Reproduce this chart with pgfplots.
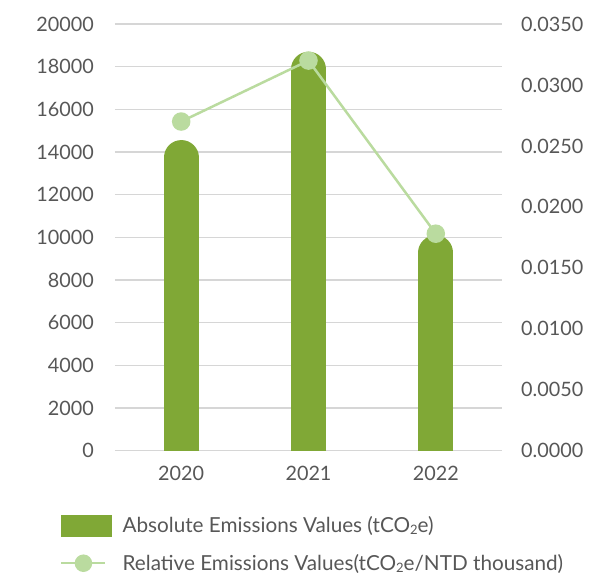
\documentclass[border=0pt]{standalone}
\usepackage{pgfplots}
\pgfplotsset{compat=1.18}
\usepackage{fontspec}
\setmainfont{Lato}

\definecolor{barcol}{HTML}{80A836}
\definecolor{linecol}{HTML}{BADB9F}
\definecolor{gridcol}{HTML}{D6D6D6}
\definecolor{txt}{HTML}{575757}

% tCO2e with a small, slightly lowered 2
\newcommand{\coe}{tCO\raisebox{-0.15ex}{\fontsize{13}{13}\selectfont 2}e}

\pgfplotsset{
  common/.style={
    scale only axis, width=387pt, height=426.7pt,
    xmin=-0.52, xmax=2.52, ymin=0,
    axis line style={draw=none},
    major tick length=0pt,
    tick style={draw=none},
    /pgf/number format/assume math mode=true,
    ticklabel style={font=\fontsize{19.8}{23}\selectfont, text=txt, inner sep=0pt},
  },
}

\begin{document}
\begin{tikzpicture}
\path[use as bounding box] (-115pt,-125.3pt) rectangle (477pt,450.7pt);

% absolute emissions: bars with rounded tops
\begin{axis}[
  common,
  ymax=20000,
  ytick={0,2000,4000,6000,8000,10000,12000,14000,16000,18000,20000},
  yticklabel style={xshift=-21pt},
  scaled y ticks=false,
  /pgf/number format/1000 sep={},
  ymajorgrids,
  grid style={gridcol, line width=1.3pt},
  xtick={0,1,2}, xticklabels={2020,2021,2022},
  xticklabel style={yshift=-15pt},
]
\addplot[ycomb, no markers, barcol, line width=35pt, line cap=round, shorten >=17.5pt] coordinates {(0,14560)};
\addplot[ycomb, no markers, barcol, line width=35pt, line cap=round, shorten >=17.5pt] coordinates {(1,18700)};
\addplot[ycomb, no markers, barcol, line width=35pt, line cap=round, shorten >=17.5pt] coordinates {(2,10100)};
\end{axis}

% relative emissions on the right-hand axis
\begin{axis}[
  common,
  ymax=0.035,
  axis y line*=right,
  axis x line=none,
  ytick={0,0.005,0.010,0.015,0.020,0.025,0.030,0.035},
  yticklabel style={xshift=19pt, /pgf/number format/.cd, fixed, fixed zerofill, precision=4},
  scaled y ticks=false,
  legend cell align=left,
  legend style={
    at={(0,0)}, anchor=north west, xshift=-58pt, yshift=-62pt,
    draw=none, fill=none,
    font=\fontsize{20.7}{24}\selectfont, text=txt,
    row sep=16pt, column sep=9pt,
  },
]
\addlegendimage{legend image code/.code={\fill[barcol] (0pt,-10.3pt) rectangle (50pt,10.3pt);}}
\addlegendentry{Absolute Emissions Values (\coe)}
\addplot[linecol, line width=2.5pt, mark=*, mark size=8pt,
  mark options={fill=linecol, draw=none},
  legend image code/.code={\draw[linecol, line width=2.5pt] (0pt,0pt) -- (44pt,0pt);
    \fill[linecol] (22pt,0pt) circle (7.5pt);}]
  coordinates {(0,0.0270) (1,0.0320) (2,0.0178)};
\addlegendentry{Relative Emissions Values(\coe/NTD thousand)}
\end{axis}
\end{tikzpicture}
\end{document}
